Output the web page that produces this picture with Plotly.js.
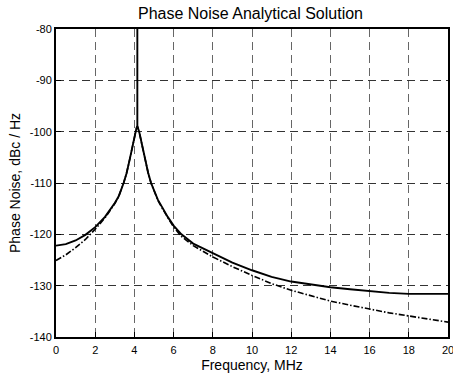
<!DOCTYPE html>
<html>
<head>
<meta charset="utf-8">
<script src="https://cdn.plot.ly/plotly-3.0.1.min.js"></script>
<style>html,body{margin:0;padding:0;background:#fff;overflow:hidden}#chart{width:453px;height:379px}</style>
</head>
<body>
<div id="chart"></div>
<script>
// Analytical solution (solid, includes carrier spike at peak)
const freqSolid = [0, 0.5, 1.0, 1.5, 2.0, 2.5, 3.0, 3.2, 3.45, 3.6, 3.75, 3.9, 4.0, 4.1, 4.15, 4.15, 4.15, 4.25, 4.4, 4.55, 4.7, 4.85, 5.0, 5.2, 5.4, 5.7, 6.0, 6.4, 7.0, 8.0, 9.0, 10, 11, 12, 13, 14, 15, 16, 17, 18, 19, 20];
const solidDb   = [-122.2, -121.9, -121.2, -120.1, -118.6, -116.6, -113.9, -112.6, -110.0, -108.1, -105.6, -102.8, -100.6, -99.4, -98.9, -40, -98.9, -100.1, -102.8, -105.5, -108.0, -110.0, -111.6, -113.3, -114.6, -116.6, -118.3, -120.0, -121.8, -123.6, -125.5, -127.0, -128.3, -129.2, -129.8, -130.3, -130.7, -131.1, -131.4, -131.6, -131.6, -131.6];
// Approximation (dash-dot)
const freqDash = [0, 0.5, 1.0, 1.5, 2.0, 2.5, 3.0, 3.2, 3.45, 3.6, 3.75, 3.9, 4.0, 4.1, 4.15, 4.25, 4.4, 4.55, 4.7, 4.85, 5.0, 5.2, 5.4, 5.7, 6.0, 6.4, 7.0, 8.0, 9.0, 10, 11, 12, 13, 14, 15, 16, 17, 18, 19, 20];
const dashDb   = [-125.1, -124.0, -122.6, -121.0, -119.0, -116.8, -114.0, -112.6, -110.0, -108.1, -105.6, -102.8, -100.6, -99.4, -98.9, -100.1, -102.8, -105.5, -108.0, -110.0, -111.6, -113.4, -114.8, -116.8, -118.6, -120.4, -122.2, -124.4, -126.3, -128.0, -129.6, -130.9, -132.0, -133.0, -133.8, -134.6, -135.3, -135.9, -136.5, -137.1];
const xTicks = [0, 2, 4, 6, 8, 10, 12, 14, 16, 18, 20];
const yTicks = [-140, -130, -120, -110, -100, -90, -80];

const font = 'Arial, "Liberation Sans", Helvetica, sans-serif';

const traces = [
  {x: freqDash, y: dashDb, mode: 'lines', line: {color: '#000', width: 1.6, dash: '6px,2px,1.5px,2px'}, hoverinfo: 'skip'},
  {x: freqSolid, y: solidDb, mode: 'lines', line: {color: '#000', width: 1.9}, hoverinfo: 'skip'}
];

const axisCommon = {
  showline: true, linecolor: '#000', linewidth: 2, mirror: true,
  ticks: 'inside', ticklen: 5, tickcolor: '#000', tickwidth: 1,
  showgrid: true, griddash: '8px,5px', gridwidth: 1,
  zeroline: false, automargin: false,
  ticklabeloverflow: 'allow',
  tickfont: {family: font, size: 11, color: '#000'}
};

const layout = {
  width: 453, height: 379,
  margin: {l: 56, r: 5, t: 29, b: 42},
  paper_bgcolor: '#fff', plot_bgcolor: '#fff',
  showlegend: false,
  title: {text: 'Phase Noise Analytical Solution', font: {family: font, size: 16, color: '#000'}, x: 0.553, xanchor: 'center', xref: 'container', yref: 'container', y: 0.979, yanchor: 'top'},
  xaxis: Object.assign({}, axisCommon, {
    range: [0, 20], tickvals: xTicks, ticktext: xTicks.map(String),
    gridcolor: '#666', ticklabelstandoff: 2,
    title: {text: 'Frequency, MHz', font: {family: font, size: 14, color: '#000'}, standoff: 5}
  }),
  yaxis: Object.assign({}, axisCommon, {
    range: [-140, -80], tickvals: yTicks, ticktext: yTicks.map(String),
    gridcolor: '#333', ticklabelstandoff: 0,
    title: {text: 'Phase Noise, dBc / Hz', font: {family: font, size: 14, color: '#000'}, standoff: 6}
  })
};

Plotly.newPlot('chart', traces, layout, {displayModeBar: false, staticPlot: true});
</script>
</body>
</html>
